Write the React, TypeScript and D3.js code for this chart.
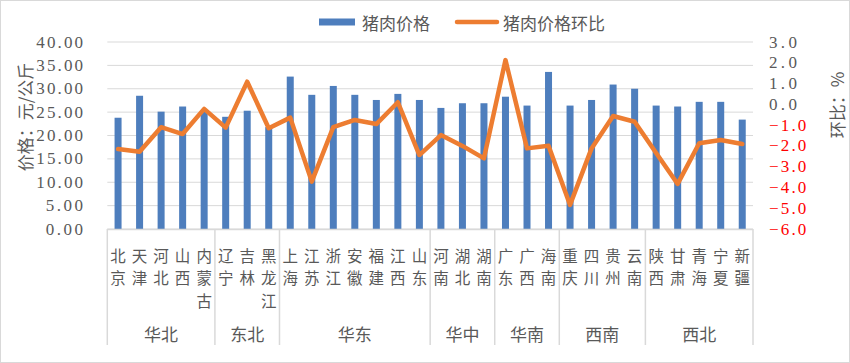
import React from 'react';
import * as d3 from 'd3';

const provinces = ['北京','天津','河北','山西','内蒙古','辽宁','吉林','黑龙江','上海','江苏','浙江','安徽','福建','江西','山东','河南','湖北','湖南','广东','广西','海南','重庆','四川','贵州','云南','陕西','甘肃','青海','宁夏','新疆'];
const regionNames = ['华北','东北','华东','华中','华南','西南','西北'];
const regionCounts = [5, 3, 7, 3, 3, 4, 5];
const prices = [23.8,28.5,25.1,26.2,25.4,24.0,25.3,21.8,32.6,28.7,30.6,28.7,27.6,28.9,27.6,25.9,26.9,26.9,28.3,26.4,33.6,26.4,27.6,30.9,30.0,26.4,26.2,27.2,27.2,23.4];
const mom = [-2.15,-2.28,-1.10,-1.43,-0.22,-1.12,1.09,-1.15,-0.64,-3.72,-1.10,-0.75,-0.95,0.10,-2.44,-1.48,-2.0,-2.6,2.13,-2.12,-1.99,-4.84,-2.12,-0.56,-0.84,-2.34,-3.83,-1.87,-1.72,-1.91];
const leftTicks = [0, 5, 10, 15, 20, 25, 30, 35, 40];
const rightTicks = [3, 2, 1, 0, -1, -2, -3, -4, -5, -6];
const seriesNames = ['猪肉价格', '猪肉价格环比'];
const leftTitle = '价格：元/公斤';
const rightTitle = '环比：%';

const W = 850, H = 363;
const BLUE = '#4E7EBD';
const ORANGE = '#ED7D31';
const TXT = '#595959';
const GRID = '#D9D9D9';
const CJK = '"Noto Sans CJK SC", sans-serif';
const NUM = '"Liberation Serif", serif';

export default function App() {
  const left = 107.3, right = 753, top = 42, bottom = 229;
  const x = d3.scaleBand<string>().domain(provinces).range([left, right]).padding(0);
  const yL = d3.scaleLinear().domain([0, 40]).range([bottom, top]);
  const yR = d3.scaleLinear().domain([-6, 3]).range([bottom, top]);
  const bw = 7;
  const cx = (p: string) => (x(p) as number) + x.bandwidth() / 2;
  const line = d3.line<number>().x((_, i) => cx(provinces[i])).y(d => yR(d));

  const bounds: number[] = [0];
  regionCounts.forEach(c => bounds.push(bounds[bounds.length - 1] + c));
  const bx = (i: number) => left + i * x.bandwidth();

  const fmtL = d3.format('.2f');
  const fmtR = (v: number) => (v < 0 ? '\u2212' : '') + d3.format('.1f')(Math.abs(v));
  const charW = 9.33;

  return (
    <svg width={W} height={H} style={{ position: 'absolute', left: 0, top: 0, background: '#fff' }}>
      <rect x={0.5} y={0.5} width={W - 1} height={H - 1} fill="#fff" stroke={GRID} />
      {leftTicks.map(t => (
        <line key={'g' + t} x1={left} x2={right} y1={yL(t)} y2={yL(t)} stroke={GRID} strokeWidth={1} />
      ))}
      {leftTicks.map(t => {
        const s = fmtL(t);
        return (
          <text key={'l' + t} x={83} y={yL(t)} textAnchor="end" dominantBaseline="central"
            fontFamily={NUM} fontSize={17} fill={TXT} textLength={s.length * charW} lengthAdjust="spacing">{s}</text>
        );
      })}
      {rightTicks.map(t => {
        const s = fmtR(t);
        return (
          <text key={'r' + t} x={769} y={yR(t)} textAnchor="start" dominantBaseline="central"
            fontFamily={NUM} fontSize={17} fill={t < 0 ? '#FF0000' : TXT} textLength={s.length * charW} lengthAdjust="spacing">{s}</text>
        );
      })}
      <text transform={`translate(24,117) rotate(-90)`} textAnchor="middle" dominantBaseline="central"
        fontFamily={CJK} fontSize={17} fill={TXT}>{leftTitle}</text>
      <text transform={`translate(836,105) rotate(-90)`} textAnchor="middle" dominantBaseline="central"
        fontFamily={CJK} fontSize={17} fill={TXT}>{rightTitle}</text>
      {provinces.map((p, i) => (
        <rect key={'b' + p} x={cx(p) - bw / 2} y={yL(prices[i])} width={bw} height={yL(0) - yL(prices[i])} fill={BLUE} />
      ))}
      <path d={line(mom) || ''} fill="none" stroke={ORANGE} strokeWidth={4.5} strokeLinejoin="round" strokeLinecap="round" />
      <line x1={left} x2={right} y1={bottom + 0.5} y2={bottom + 0.5} stroke={GRID} strokeWidth={1.5} />
      {bounds.map((b, i) => (
        <line key={'v' + i} x1={bx(b)} x2={bx(b)} y1={bottom} y2={345} stroke={GRID} strokeWidth={1.5} />
      ))}
      {provinces.map(p => (
        <g key={'c' + p}>
          {Array.from(p).map((ch, j) => (
            <text key={j} x={cx(p)} y={255 + j * 22.3} textAnchor="middle" dominantBaseline="central"
              fontFamily={CJK} fontSize={15.5} fill={TXT}>{ch}</text>
          ))}
        </g>
      ))}
      {regionNames.map((r, i) => (
        <text key={'rg' + r} x={(bx(bounds[i]) + bx(bounds[i + 1])) / 2} y={333} textAnchor="middle" dominantBaseline="central"
          fontFamily={CJK} fontSize={17} fill={TXT}>{r}</text>
      ))}
      <rect x={319} y={18.5} width={36} height={7} fill={BLUE} />
      <text x={362} y={22} dominantBaseline="central" fontFamily={CJK} fontSize={17} fill={TXT}>{seriesNames[0]}</text>
      <line x1={457} x2={497} y1={22} y2={22} stroke={ORANGE} strokeWidth={4.5} strokeLinecap="round" />
      <text x={503} y={22} dominantBaseline="central" fontFamily={CJK} fontSize={17} fill={TXT}>{seriesNames[1]}</text>
    </svg>
  );
}
